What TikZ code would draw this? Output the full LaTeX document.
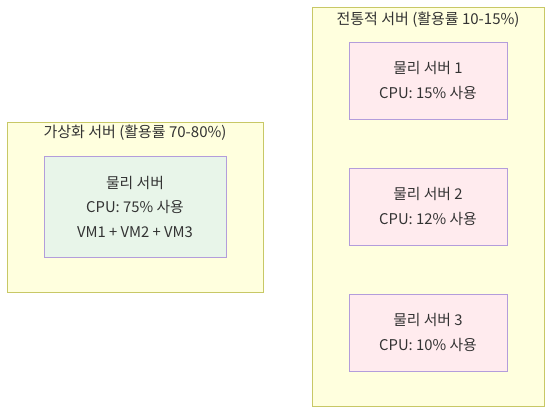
\documentclass[tikz,border=0pt]{standalone}
\usepackage{fontspec}
\setmainfont{Noto Sans CJK KR}
\definecolor{clfill}{HTML}{FFFFDE}
\definecolor{cldraw}{HTML}{C8C866}
\definecolor{bxdraw}{HTML}{B39DDB}
\definecolor{greenfill}{HTML}{E8F5E9}
\definecolor{pinkfill}{HTML}{FFEBEE}
\definecolor{txt}{HTML}{333333}
\begin{document}
\begin{tikzpicture}[x=1pt,y=-1pt,
  cluster/.style={draw=cldraw,fill=clfill,line width=0.9pt},
  srv/.style={draw=bxdraw,line width=0.9pt,rectangle,inner sep=0pt,text=txt,align=center,font=\fontsize{14.8}{24.5}\selectfont},
  ttl/.style={text=txt,font=\fontsize{15}{18}\selectfont}]
\useasboundingbox[fill=white] (0,0) rectangle (560,420);
% left cluster
\draw[cluster] (7.5,122.5) rectangle (263,292);
\node[ttl] (lt) at (135,133) {가상화 서버 (활용률 70-80\%)};
\node[srv,fill=greenfill,minimum width=182pt,minimum height=101pt] (v) at (135,206.5) {물리 서버\\CPU: 75\% 사용\\VM1 + VM2 + VM3};
% right cluster
\draw[cluster] (312,7.5) rectangle (544.5,406);
\node[ttl] (rt) at (428,20) {전통적 서버 (활용률 10-15\%)};
\node[srv,fill=pinkfill,minimum width=158pt,minimum height=77pt] (s1) at (428,80.5) {물리 서버 1\\CPU: 15\% 사용};
\node[srv,fill=pinkfill,minimum width=158pt,minimum height=77pt] (s2) at (428,206.5) {물리 서버 2\\CPU: 12\% 사용};
\node[srv,fill=pinkfill,minimum width=158pt,minimum height=77pt] (s3) at (428,332.5) {물리 서버 3\\CPU: 10\% 사용};
\end{tikzpicture}
\end{document}
